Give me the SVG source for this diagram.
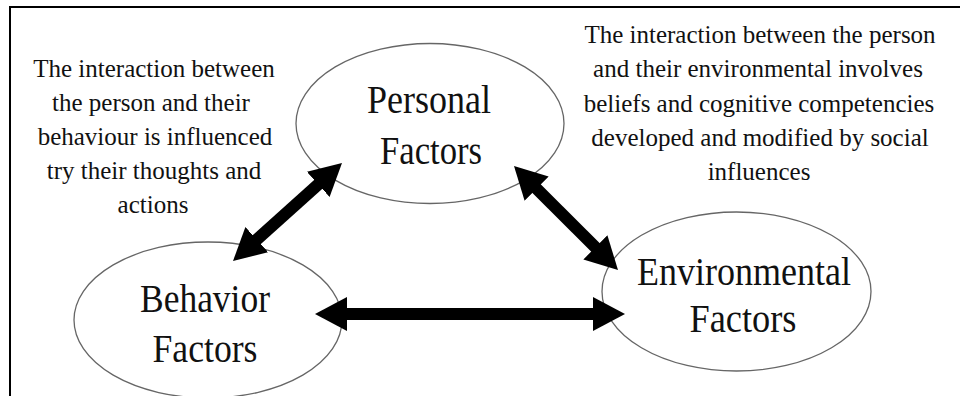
<svg xmlns="http://www.w3.org/2000/svg" width="960" height="396" viewBox="0 0 960 396">
  <style>
    .node { fill: #ffffff; stroke: #666666; stroke-width: 1.3; }
    .label { font-family: 'Liberation Serif', 'Times New Roman', Times, 'Nimbus Roman', 'DejaVu Serif', serif; font-size: 40px; fill: #111111; text-anchor: middle; }
    .note { font-family: 'Liberation Serif', 'Times New Roman', Times, 'Nimbus Roman', 'DejaVu Serif', serif; font-size: 25px; fill: #111111; text-anchor: middle; }
    .conn { stroke: #000000; stroke-width: 12; fill: none; marker-start: url(#head); marker-end: url(#head); }
    .frame { stroke: #000000; stroke-width: 2; fill: none; }
  </style>
  <defs>
    <marker id="head" viewBox="0 -17 32 34" markerWidth="32" markerHeight="34" refX="1" refY="0" markerUnits="userSpaceOnUse" orient="auto-start-reverse">
      <path d="M0,-17 L32,0 L0,17 Z" fill="#000000"/>
    </marker>
  </defs>
  <rect width="960" height="396" fill="#ffffff"/>
  <path class="frame" d="M10,400 L10,7 L962,7"/>

  <g id="note-left">
    <text class="note" x="154" y="77">The interaction between</text>
    <text class="note" x="151" y="111">the person and their</text>
    <text class="note" x="155" y="145">behaviour is influenced</text>
    <text class="note" x="154" y="179">try their thoughts and</text>
    <text class="note" x="153" y="213">actions</text>
  </g>
  <g id="note-right">
    <text class="note" x="760" y="43">The interaction between the person</text>
    <text class="note" x="758" y="77">and their environmental involves</text>
    <text class="note" x="759" y="112">beliefs and cognitive competencies</text>
    <text class="note" x="760" y="146">developed and modified by social</text>
    <text class="note" x="759" y="180">influences</text>
  </g>

  <g id="personal">
    <ellipse class="node" cx="430" cy="123.5" rx="134" ry="80"/>
    <text class="label" x="429" y="113" textLength="124" lengthAdjust="spacingAndGlyphs">Personal</text>
    <text class="label" x="431" y="164" textLength="102" lengthAdjust="spacingAndGlyphs">Factors</text>
  </g>
  <g id="behavior">
    <ellipse class="node" cx="208" cy="320" rx="134" ry="78"/>
    <text class="label" x="205" y="312" textLength="130" lengthAdjust="spacingAndGlyphs">Behavior</text>
    <text class="label" x="205" y="362" textLength="105" lengthAdjust="spacingAndGlyphs">Factors</text>
  </g>
  <g id="environmental">
    <ellipse class="node" cx="736.5" cy="291.5" rx="134.5" ry="79.5"/>
    <text class="label" x="744" y="285" textLength="214" lengthAdjust="spacingAndGlyphs">Environmental</text>
    <text class="label" x="743" y="332" textLength="107" lengthAdjust="spacingAndGlyphs">Factors</text>
  </g>

  <g id="connectors">
    <line class="conn" x1="318.95" y1="183.72" x2="256.05" y2="240.28"/>
    <line class="conn" x1="535.92" y1="187.92" x2="596.08" y2="248.08"/>
    <line class="conn" x1="346" y1="314" x2="594" y2="314"/>
  </g>
</svg>
